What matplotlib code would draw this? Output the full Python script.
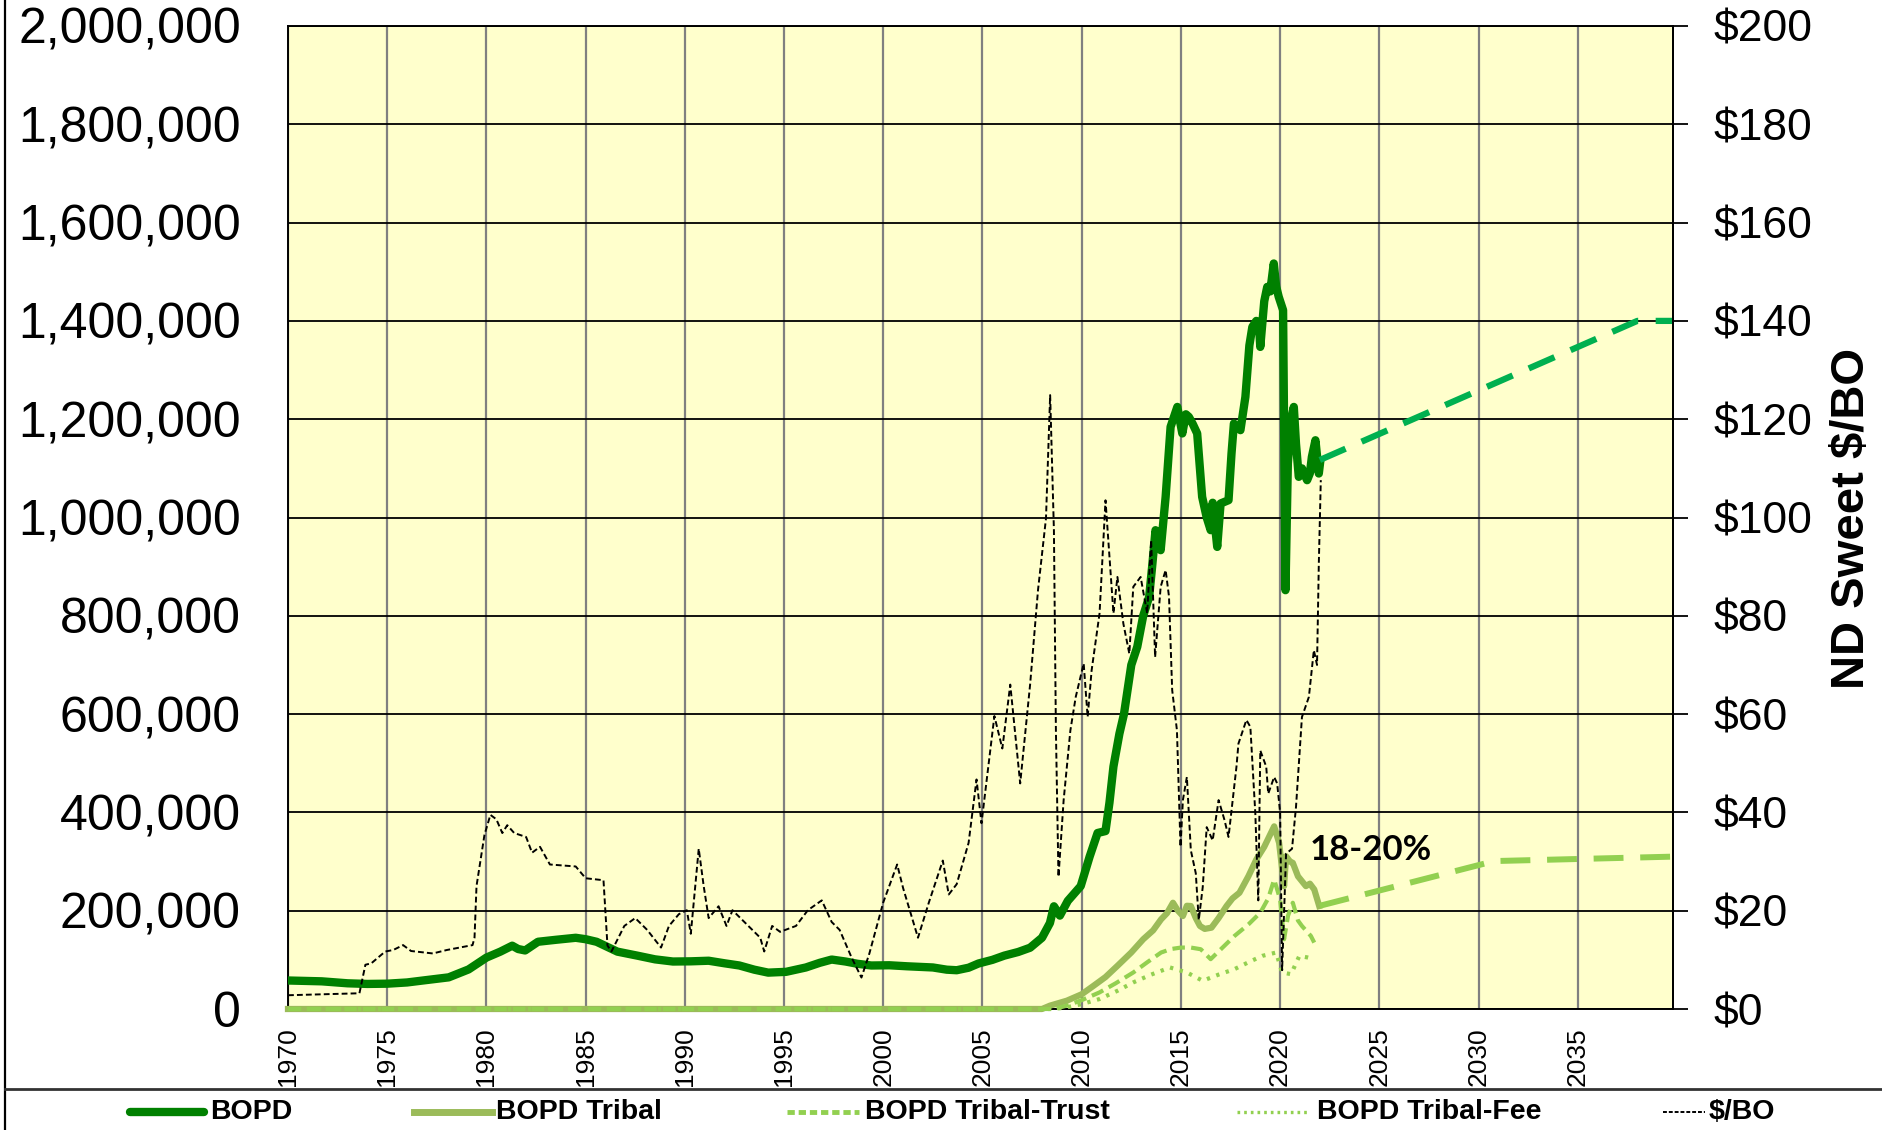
import matplotlib
matplotlib.use('Agg')
import matplotlib.pyplot as plt
from matplotlib.lines import Line2D
from matplotlib.ticker import FuncFormatter

plt.rcParams['font.family'] = ['Liberation Sans', 'DejaVu Sans']

# ---- data (decimal years) ----
bopd_yr = [1970.0, 1971.0, 1971.7, 1973.0, 1974.0, 1975.0, 1976.0, 1976.8, 1978.1, 1979.1,
           1980.0, 1980.7, 1981.3, 1981.6, 1981.95, 1982.6, 1983.5, 1984.5, 1985.0, 1985.55,
           1986.6, 1987.6, 1988.5, 1989.4, 1990.3, 1991.2, 1992.0, 1992.75, 1993.5, 1994.2,
           1995.1, 1996.1, 1996.8, 1997.4, 1998.1, 1998.7, 1999.4, 2000.3, 2001.2, 2002.5,
           2003.2, 2003.7, 2004.3, 2004.8, 2005.5, 2006.1, 2006.8, 2007.4, 2008.0, 2008.4,
           2008.6, 2008.9, 2009.3, 2009.95, 2010.4, 2010.8, 2011.2, 2011.4, 2011.6, 2011.9,
           2012.13, 2012.5, 2012.8, 2013.1, 2013.4, 2013.55, 2013.72, 2013.98, 2014.23, 2014.48,
           2014.82, 2015.07, 2015.25, 2015.4, 2015.6, 2015.82, 2016.07, 2016.3, 2016.5, 2016.6,
           2016.83, 2017.0, 2017.4, 2017.55, 2017.67, 2018.0, 2018.25, 2018.45, 2018.6, 2018.8,
           2018.93, 2019.0, 2019.2, 2019.35, 2019.5, 2019.68, 2019.8, 2019.93, 2020.15, 2020.27,
           2020.39, 2020.55, 2020.69, 2020.8, 2020.94, 2021.1, 2021.36, 2021.5, 2021.6, 2021.78,
           2021.95, 2022.03]
bopd = [58000, 57000, 56300, 52300, 51000, 51500, 54000, 58000, 64400, 80500,
        104600, 116700, 128800, 122000, 119100, 136800, 140800, 144900, 142000, 136800,
        116700, 108600, 101000, 96600, 97000, 98200, 93000, 88500, 80000, 74000,
        75600, 84500, 94000, 100600, 96600, 92000, 88500, 89000, 86900, 84500,
        80000, 78900, 84000, 92600, 100000, 108600, 116000, 124700, 145000, 175000,
        209000, 190000, 220000, 250000, 310000, 358100, 362000, 420000, 493200, 560000,
        600000, 700000, 736800, 800000, 838500, 900000, 974200, 933500, 1042000, 1184400,
        1225000, 1171000, 1210000, 1204700, 1190000, 1171000, 1042000, 1000000, 974200, 1030000,
        940200, 1028500, 1035200, 1130000, 1191200, 1177700, 1245400, 1350000, 1387800, 1400000,
        1394700, 1347100, 1440000, 1469200, 1460000, 1516800, 1470000, 1448900, 1421800, 852100,
        1109900, 1200000, 1225000, 1150000, 1082700, 1100000, 1075900, 1090000, 1123300, 1157200,
        1089500, 1116600]

tribal_yr = [1970.0, 2008.0, 2008.4, 2009.25, 2010.0, 2010.6, 2011.2, 2011.8, 2012.5, 2013.1,
             2013.6, 2014.0, 2014.3, 2014.6, 2014.85, 2015.1, 2015.3, 2015.5, 2015.75, 2015.96,
             2016.2, 2016.54, 2016.9, 2017.3, 2017.6, 2017.95, 2018.4, 2018.8, 2019.2, 2019.5,
             2019.7, 2019.95, 2020.2, 2020.3, 2020.5, 2020.64, 2020.9, 2021.3, 2021.5, 2021.72,
             2021.97]
tribal = [0, 0, 6800, 16900, 30000, 47300, 65000, 87800, 115000, 141900,
          160000, 182400, 195000, 216200, 200000, 189200, 210000, 209500, 185000, 168900,
          163000, 165500, 185000, 209500, 225000, 236500, 270000, 304100, 330000, 355000,
          371600, 337800, 250000, 310800, 300000, 297300, 270000, 250000, 255000, 243200,
          209500]

trust_yr = [1970.0, 2008.6, 2009.25, 2010.0, 2010.9, 2011.7, 2012.6, 2013.3, 2014.0, 2014.5,
            2015.0, 2015.5, 2016.0, 2016.5, 2017.1, 2017.7, 2018.4, 2019.0, 2019.4, 2019.7,
            2020.0, 2020.2, 2020.4, 2020.64, 2020.9, 2021.1, 2021.55, 2021.72]
trust = [0, 0, 6800, 18000, 33800, 52000, 74300, 95000, 114900, 122000,
         125000, 125000, 121600, 101400, 125000, 148600, 172000, 195900, 225000, 263500,
         223000, 141900, 190000, 216200, 180000, 168900, 148600, 135100]

fee_yr = [1970.0, 2008.6, 2009.25, 2010.0, 2010.9, 2011.8, 2012.6, 2013.5, 2014.45, 2015.3,
          2016.1, 2016.9, 2017.7, 2018.4, 2019.1, 2019.8, 2020.1, 2020.55, 2020.97, 2021.4,
          2021.72]
fee = [0, 0, 3400, 10000, 20300, 37000, 54100, 70000, 84500, 74300,
       57400, 70000, 81100, 95000, 108100, 114900, 74300, 70900, 108100, 104700,
       101400]

price_yr = [1970.0, 1973.6, 1973.9, 1974.2, 1974.9, 1975.3, 1975.8, 1976.2, 1977.3, 1978.0,
            1979.3, 1979.4, 1979.5, 1979.9, 1980.2, 1980.5, 1980.8, 1981.05, 1981.4, 1981.7,
            1982.0, 1982.3, 1982.7, 1983.2, 1984.5, 1985.0, 1985.9, 1986.1, 1986.3, 1986.95,
            1987.5, 1988.1, 1988.8, 1989.2, 1989.7, 1990.1, 1990.3, 1990.7, 1990.95, 1991.2,
            1991.7, 1992.1, 1992.4, 1993.0, 1993.8, 1994.0, 1994.4, 1994.8, 1995.6, 1996.2,
            1996.9, 1997.4, 1997.8, 1998.4, 1998.9, 1999.3, 2000.0, 2000.7, 2001.0, 2001.75,
            2002.3, 2003.0, 2003.3, 2003.7, 2004.3, 2004.7, 2004.95, 2005.6, 2006.0, 2006.4,
            2006.9, 2007.4, 2007.8, 2008.2, 2008.41, 2008.6, 2008.7, 2008.83, 2009.09, 2009.43,
            2009.7, 2010.1, 2010.3, 2010.5, 2010.9, 2011.2, 2011.4, 2011.6, 2011.8, 2012.1,
            2012.4, 2012.6, 2012.97, 2013.3, 2013.5, 2013.7, 2013.98, 2014.23, 2014.4, 2014.56,
            2014.8, 2014.98, 2015.1, 2015.3, 2015.5, 2015.75, 2015.9, 2016.1, 2016.3, 2016.6,
            2016.9, 2017.2, 2017.4, 2017.8, 2017.9, 2018.3, 2018.5, 2018.75, 2018.9, 2019.0,
            2019.3, 2019.4, 2019.7, 2019.85, 2020.0, 2020.1, 2020.3, 2020.6, 2020.8, 2021.1,
            2021.45, 2021.7, 2021.86, 2021.95, 2022.05]
price = [2.8, 3.2, 9.0, 9.3, 11.7, 12.0, 13.0, 11.8, 11.3, 12.0,
         13.0, 14.5, 25.0, 35.4, 39.5, 38.6, 35.8, 37.4, 35.8, 35.4,
         35.0, 31.8, 33.0, 29.4, 29.0, 26.6, 26.2, 12.9, 11.7, 16.9,
         18.5, 16.1, 12.5, 16.9, 19.3, 20.1, 15.3, 32.6, 25.0, 18.5,
         20.9, 16.9, 20.1, 17.7, 14.5, 11.7, 16.9, 15.7, 16.9, 20.1,
         22.1, 17.7, 16.1, 10.5, 6.4, 11.3, 21.7, 29.4, 24.6, 14.5,
         21.7, 30.2, 23.3, 25.4, 33.8, 46.7, 37.8, 59.6, 53.0, 66.0,
         45.9, 66.0, 85.3, 99.8, 124.9, 97.4, 56.7, 26.9, 42.5, 56.7,
         63.5, 70.3, 59.4, 68.9, 80.5, 103.5, 92.0, 80.5, 87.9, 78.4,
         72.3, 85.9, 87.9, 80.5, 95.4, 71.6, 85.9, 89.3, 83.9, 64.9,
         56.7, 33.0, 42.5, 47.2, 32.3, 27.6, 18.1, 24.8, 37.0, 34.3,
         42.5, 38.4, 35.0, 49.3, 54.0, 58.8, 57.4, 39.8, 22.1, 52.6,
         49.3, 43.8, 47.2, 45.9, 40.0, 7.9, 31.6, 32.6, 41.1, 59.4,
         63.5, 73.0, 70.0, 90.6, 107.6]

# projections (dashed, not in legend)
proj_yr = [2022.0, 2038.0, 2039.8]
proj_bopd = [1117000, 1400000, 1400000]
proj_tribal_yr = [2022.0, 2030.8, 2039.8]
proj_tribal = [210000, 301000, 310000]

left_ticks = list(range(0, 2000001, 200000))
right_ticks = list(range(0, 201, 20))
year_ticks = list(range(1970, 2036, 5))

c_bopd = '#008000'
c_tribal = '#9BBB59'
c_light = '#92D050'
c_proj = '#00B050'

W, H = 1883, 1130
fig = plt.figure(figsize=(W / 100, H / 100), dpi=100)
ax = fig.add_axes([288 / W, 121 / H, 1385 / W, 983 / H])
ax.set_facecolor('#FFFFCC')

ax.plot(bopd_yr, bopd, color=c_bopd, lw=6, solid_joinstyle='round', zorder=4)
ax.plot(tribal_yr, tribal, color=c_tribal, lw=4.5, zorder=4, clip_on=False)
ax.plot(trust_yr, trust, color=c_light, lw=3, ls=(0, (3, 1.5)), zorder=4, clip_on=False)
ax.plot(fee_yr, fee, color=c_light, lw=3, ls=(0, (0.8, 1.6)), zorder=4, clip_on=False)
ax.plot(proj_yr, proj_bopd, color=c_proj, lw=4.5, ls=(0, (4.5, 2.8)), zorder=4)
ax.plot(proj_tribal_yr, proj_tribal, color=c_light, lw=4.3, ls=(0, (5, 2.8)), zorder=4)

ax.set_xlim(1970, 2039.8)
ax.set_ylim(0, 2000000)
ax.set_xticks(year_ticks)
ax.set_xticklabels([str(y) for y in year_ticks], rotation=90, fontsize=19)
ax.set_yticks(left_ticks)
ax.yaxis.set_major_formatter(FuncFormatter(lambda v, p: f'{int(v):,}'))
ax.tick_params(axis='y', length=0, pad=34, labelsize=36)
ax.tick_params(axis='x', length=0, pad=13)
ax.grid(axis='y', color='black', lw=1.3)
ax.grid(axis='x', color='#808080', lw=1.6)
for s in ax.spines.values():
    s.set_color('black')
    s.set_linewidth(1.4)

ax2 = ax.twinx()
ax2.plot(price_yr, price, color='black', lw=1.4, ls=(0, (3, 1.6)))
ax2.set_ylim(0, 200)
ax2.set_yticks(right_ticks)
ax2.set_yticklabels([f'${v}' for v in right_ticks])
ax2.tick_params(axis='y', direction='out', length=11, width=1.3, pad=18, labelsize=32)
for k in ['top', 'bottom', 'left']:
    ax2.spines[k].set_visible(False)
ax2.spines['right'].set_linewidth(1.4)

ax.text(2021.5, 323000, '18-20%', fontsize=25, fontweight='bold', family='Lato',
        ha='left', va='center', zorder=6)

fig.text(1852 / W, 1 - 518 / H, 'ND Sweet $/BO', rotation=90, fontsize=34,
         fontweight='bold', ha='center', va='center')

# frame lines around chart / legend band
fig.add_artist(Line2D([5 / W, 5 / W], [0, 1], color='black', lw=1.6))
fig.add_artist(Line2D([5 / W, 1], [1 - 1089 / H, 1 - 1089 / H], color='#333333', lw=2))

# legend
ly = 1 - 1112 / H
entries = [
    (130, 204, 210, 'BOPD', dict(color=c_bopd, lw=6, solid_capstyle='round')),
    (414, 492, 496, 'BOPD Tribal', dict(color=c_tribal, lw=5)),
    (787, 859, 865, 'BOPD Tribal-Trust', dict(color=c_light, lw=3.5, ls=(0, (1.5, 0.8)))),
    (1237, 1309, 1317, 'BOPD Tribal-Fee', dict(color=c_light, lw=2.4, ls=(0, (0.8, 1.2)))),
    (1663, 1705, 1709, '$/BO', dict(color='black', lw=1.4, ls=(0, (2, 1)))),
]
for x0, x1, xt, label, kw in entries:
    fig.add_artist(Line2D([x0 / W, x1 / W], [ly, ly], **kw))
    fig.text(xt / W, ly, label, fontsize=20.5, fontweight='bold', ha='left', va='center')

fig.savefig('out.png', dpi=100, facecolor='white')
